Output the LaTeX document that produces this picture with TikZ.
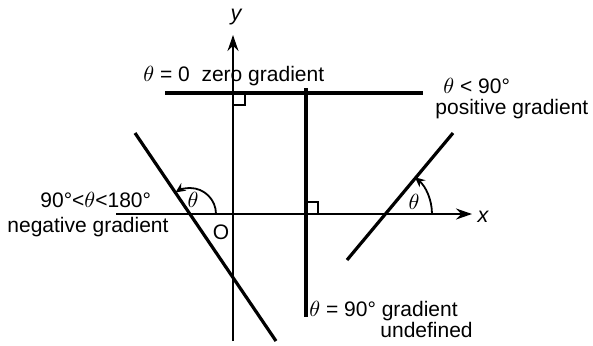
\documentclass[tikz,border=0pt]{standalone}
\usepackage{fontspec}
\setmainfont{Liberation Sans}
\usetikzlibrary{arrows.meta,calc}
\begin{document}
\begin{tikzpicture}[x=0.5pt,y=-0.5pt,
  lbl/.style={font=\fontsize{10.5pt}{12pt}\selectfont, inner sep=0pt},
  axisline/.style={line width=1.0pt},
  mainline/.style={line width=1.6pt},
  axtip/.style={-{Stealth[length=8pt,width=5.5pt]}},
  arctip/.style={-{Stealth[length=5pt,width=4.5pt]}, line width=0.9pt},
  rightangle/.style={line width=0.8pt}]
\useasboundingbox (0,0) rectangle (593,345);
% axes
\coordinate (O) at (233,214);
\coordinate (yb) at (233,341);
\coordinate (yt) at (233,35);
\coordinate (xl) at (116,214);
\coordinate (xr) at (472,214);
\draw[axisline,axtip] (yb) -- (yt);
\draw[axisline,axtip] (xl) -- (xr);
\node[lbl,font=\fontsize{10.8pt}{12pt}\selectfont\itshape] (ylab) at (236,17) {y};
\node[lbl,font=\fontsize{10.8pt}{12pt}\selectfont\itshape] (xlab) at (483,217) {x};
\node[lbl] (olab) at (221,232) {O};
% zero gradient line
\coordinate (h1) at (165,93);
\coordinate (h2) at (423,93);
\draw[mainline] (h1) -- (h2);
% vertical line
\coordinate (v1) at (306,88);
\coordinate (v2) at (306,317);
\draw[mainline] (v1) -- (v2);
% negative gradient line
\coordinate (n1) at (135,133);
\coordinate (n2) at (276,341);
\coordinate (nx) at (190,214);
\draw[mainline] (n1) -- (n2);
% positive gradient line
\coordinate (p1) at (347,260);
\coordinate (p2) at (453,133);
\coordinate (px) at (384,214);
\draw[mainline] (p1) -- (p2);
% right angle marks
\draw[rightangle] (233,105) -- (245,105) -- (245,93);
\draw[rightangle] (306,202) -- (318,202) -- (318,214);
% angle arcs
\draw[arctip] ($(px)+(48,0)$) arc[start angle=0, end angle=-50, radius=48];
\draw[arctip] ($(nx)+(26,0)$) arc[start angle=0, end angle=-124, radius=26];
\node[lbl] (t1) at (193,200) {$\theta$};
\node[lbl] (t2) at (414,202) {$\theta$};
% labels
\node[lbl,anchor=base west] (zg) at (143,81) {$\theta$ = 0\ \ zero gradient};
\node[lbl,anchor=base west] (pg1) at (443,93) {$\theta$ < 90°};
\node[lbl,anchor=base west] (pg2) at (435,114) {positive gradient};
\node[lbl,anchor=base west] (ng1) at (40,207) {90°<$\theta$<180°};
\node[lbl,anchor=base west] (ng2) at (7,232) {negative gradient};
\node[lbl,anchor=base west] (ud1) at (309,316) {$\theta$ = 90° gradient};
\node[lbl,anchor=base west] (ud2) at (380,337) {undefined};
\end{tikzpicture}
\end{document}
